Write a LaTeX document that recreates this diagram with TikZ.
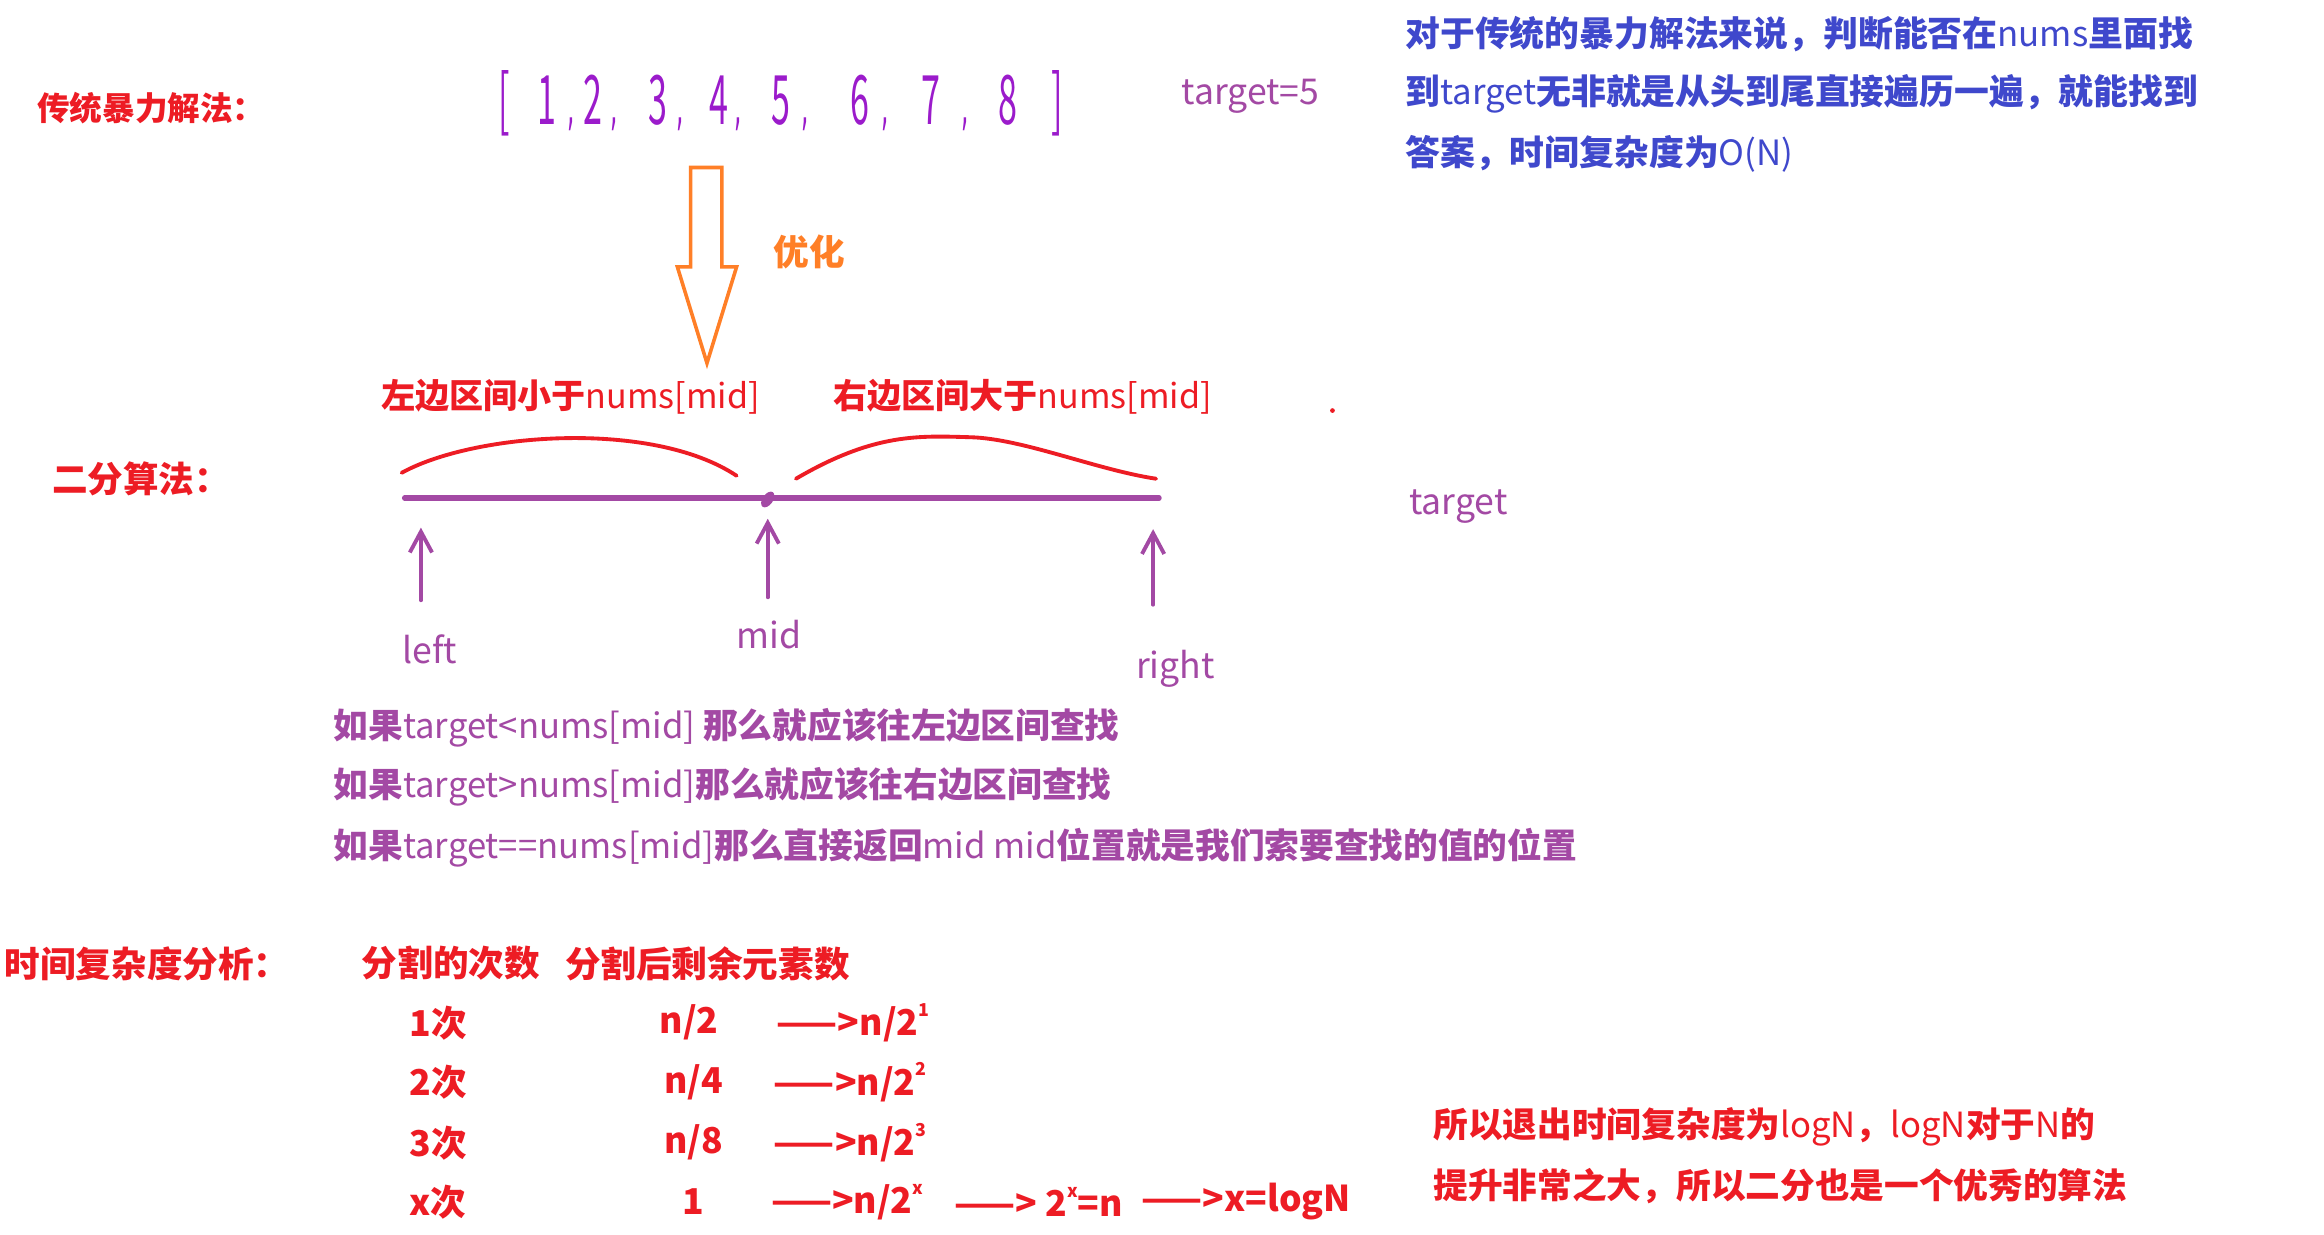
\documentclass[tikz,border=0pt]{standalone}
\usepackage{fontspec}
\usepackage{graphicx}
\setmainfont{Noto Sans CJK SC}
\newfontfamily\dvfont{DejaVu Sans}
\usetikzlibrary{arrows.meta}
\definecolor{pred}{HTML}{ED1C24}
\definecolor{ppurple}{HTML}{A349A4}
\definecolor{pblue}{HTML}{3F48CC}
\definecolor{porange}{HTML}{FF7F27}
\definecolor{pviolet}{HTML}{9B1BCB}
\newcommand\lat[1]{{\mdseries #1}}
\newcommand\supx[1]{\raisebox{0.55em}{\fontsize{12}{12}\selectfont #1}}
\newcommand\putat[2]{\makebox[0pt][l]{\hspace*{#1pt}\makebox[0pt]{#2}}}
\newcommand\dg[1]{\scalebox{0.5}[1]{#1}}
\newcommand\cm{{\dvfont\fontsize{26}{26}\selectfont\scalebox{0.6}[1.4]{,}}}
\tikzset{
  txt/.style={anchor=west,inner sep=0pt,font=\fontsize{24}{24}\selectfont\bfseries},
  redtxt/.style={txt,text=pred},
  hdrtxt/.style={txt,text=pred,font=\fontsize{23}{23}\selectfont\bfseries},
  purtxt/.style={txt,text=ppurple,font=\fontsize{23.4}{23.4}\selectfont\bfseries},
  bluetxt/.style={txt,text=pblue,font=\fontsize{23.5}{23.5}\selectfont\bfseries},
  lbl/.style={inner sep=0pt,text=ppurple,font=\fontsize{24}{24}\selectfont},
  digit/.style={inner sep=0pt,text=pviolet,font=\fontsize{46}{46}\selectfont},
  curve/.style={draw=pred,line width=2.6pt,line cap=round},
  uparrow/.style={draw=ppurple,line width=2.6pt,line cap=round,-{Straight Barb[length=14pt,width=15pt,line width=2.6pt]}},
}
\begin{document}
\begin{tikzpicture}[x=1pt,y=-1pt]
\fill[white] (0,0) rectangle (1568,833);
\useasboundingbox (0,0) rectangle (1568,833);

% brute force
\node[redtxt,font=\fontsize{22}{22}\selectfont\bfseries] (bf) at (25,73) {传统暴力解法：};
\node[digit,anchor=base west] (arr) at (340,84) {%
  \putat{0}{\dg{[}}\putat{29}{\dg{1}}\putat{45}{\cm}\putat{60}{\dg{2}}\putat{74}{\cm}%
  \putat{104}{\dg{3}}\putat{119}{\cm}\putat{145}{\dg{4}}\putat{158}{\cm}%
  \putat{187}{\dg{5}}\putat{203}{\cm}\putat{240}{\dg{6}}\putat{257}{\cm}%
  \putat{288}{\dg{7}}\putat{311}{\cm}\putat{340}{\dg{8}}\putat{373}{\dg{]}}\hspace*{373pt}};
\node[lbl,anchor=west] (t5) at (797,65) {target=5};

\node[bluetxt] (b1) at (948,23) {对于传统的暴力解法来说，判断能否在\lat{nums}里面找};
\node[bluetxt] (b2) at (948,63) {到\lat{target}无非就是从头到尾直接遍历一遍，就能找到};
\node[bluetxt] (b3) at (948,104) {答案，时间复杂度为\lat{O(N)}};

% optimisation arrow
\draw[porange,line width=2.4pt,line join=miter] (466,113) -- (487,113) -- (487,180) -- (497,180) -- (477,245) -- (457,180) -- (466,180) -- cycle;
\node[txt,text=porange] (opt) at (522,170) {优化};

% binary search
\node[redtxt] (bs) at (35,323) {二分算法：};
\node[hdrtxt] (lh) at (257,268) {左边区间小于\lat{nums[mid]}};
\node[hdrtxt] (rh) at (562,268) {右边区间大于\lat{nums[mid]}};
\fill[pred] (899,277) circle (1.6);
\draw[curve] (271,319) .. controls (320,292) and (440,283) .. (497,321);
\draw[curve] (537,323) .. controls (590,292) and (620,294) .. (655,295) .. controls (690,296) and (740,317) .. (780,323);
\coordinate (la) at (273,336);
\coordinate (lb) at (782,336);
\draw[ppurple,line width=3.6pt,line cap=round] (la) -- (lb);
\fill[ppurple,rotate around={55:(518,337)}] (518,337) ellipse (6 and 3.5);

\node[lbl] (left) at (290,438) {left};
\node[lbl] (mid) at (519,428) {mid};
\node[lbl] (right) at (793,451) {right};
\node[lbl] (tg) at (984,342) {target};
\coordinate (al) at (284,405); \coordinate (alt) at (284,356);
\coordinate (am) at (518,403); \coordinate (amt) at (518,350);
\coordinate (ar) at (778,408); \coordinate (art) at (778,357);
\draw[uparrow] (al) -- (alt);
\draw[uparrow] (am) -- (amt);
\draw[uparrow] (ar) -- (art);

\node[purtxt] (p1) at (225,491) {如果\lat{target<nums[mid]} 那么就应该往左边区间查找};
\node[purtxt] (p2) at (225,531) {如果\lat{target>nums[mid]}那么就应该往右边区间查找};
\node[purtxt] (p3) at (225,572) {如果\lat{target==nums[mid]}那么直接返回\lat{mid mid}位置就是我们索要查找的值的位置};

% complexity table
\node[redtxt] (ca) at (3,650) {时间复杂度分析：};
\node[redtxt] (h1) at (244,650) {分割的次数};
\node[redtxt] (h2) at (381,650) {分割后剩余元素数};
\node[redtxt] (r1a) at (276,690) {1次};
\node[redtxt] (r1b) at (445,690) {n/2};
\node[redtxt] (r1c) at (524,690) {——>n/2\supx{1}};
\node[redtxt] (r2a) at (276,730) {2次};
\node[redtxt] (r2b) at (448,730) {n/4};
\node[redtxt] (r2c) at (522,730) {——>n/2\supx{2}};
\node[redtxt] (r3a) at (276,771) {3次};
\node[redtxt] (r3b) at (448,771) {n/8};
\node[redtxt] (r3c) at (522,771) {——>n/2\supx{3}};
\node[redtxt] (r4a) at (276,811) {x次};
\node[redtxt] (r4b) at (460,811) {1};
\node[redtxt] (r4c) at (520,811) {——>n/2\supx{x}};
\node[redtxt] (r4d) at (644,811) {——> 2\supx{x}=n};
\node[redtxt] (r4e) at (770,811) {——>x=logN};

\node[purtxt,text=pred] (c1) at (967,760) {所以退出时间复杂度为\lat{logN}，\lat{logN}对于\lat{N}的};
\node[purtxt,text=pred] (c2) at (967,800) {提升非常之大，所以二分也是一个优秀的算法};
\end{tikzpicture}
\end{document}
